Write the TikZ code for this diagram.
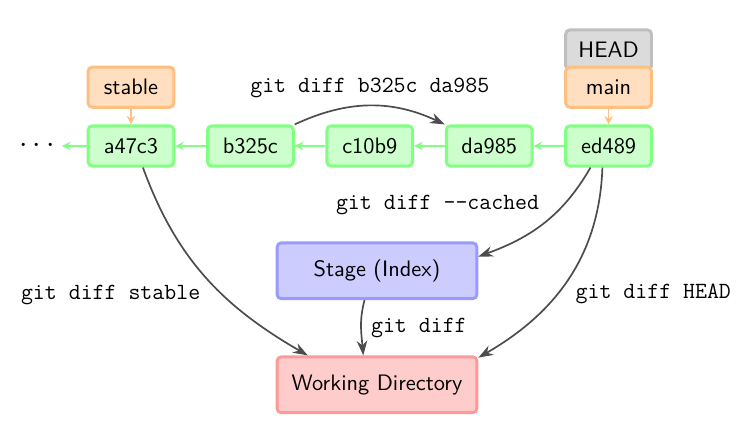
\documentclass[tikz,border=0pt]{standalone}
\usepackage{tikz}
\usetikzlibrary{arrows.meta}

\begin{document}
\begin{tikzpicture}[
    commit/.style={draw=green!50, fill=green!20, line width=1.4pt, rounded corners=2pt,
        minimum width=1.43cm, minimum height=0.67cm, font=\fontsize{10.6}{12}\selectfont\sffamily},
    branch/.style={commit, draw=orange!50, fill=orange!25},
    headbox/.style={commit, draw=black!25, fill=black!14},
    area/.style={commit, minimum width=3.33cm, minimum height=0.93cm},
    parent/.style={green!50, thick, -{Stealth[length=4pt,width=4pt]}},
    points/.style={orange!50, thick, -{Stealth[length=4pt,width=4pt]}},
    diff/.style={black!70, thick, -{Stealth[length=7pt,width=5pt]}},
    cmd/.style={font=\fontsize{11}{13}\selectfont\ttfamily, black}
]
\useasboundingbox (-2.183,2.433) rectangle (10.25,-4.933);

    % Commits, newest on the right
    \node[font=\fontsize{15}{18}\selectfont] (dots) at (-1.57,0) {$\cdots$};
    \node[commit] (a47c3) at (0,0) {a47c3};
    \node[commit] (b325c) at (1.99,0) {b325c};
    \node[commit] (c10b9) at (3.98,0) {c10b9};
    \node[commit] (da985) at (5.97,0) {da985};
    \node[commit] (ed489) at (7.96,0) {ed489};

    % Branches and HEAD
    \node[branch] (stable) at (0,0.98) {stable};
    \node[headbox] (head) at (7.96,1.6) {HEAD};
    \node[branch] (main) at (7.96,0.98) {main};

    % Stage and working directory
    \node[area, draw=blue!40, fill=blue!20] (stage) at (4.1,-2.08) {Stage (Index)};
    \node[area, draw=red!40, fill=red!20] (wd) at (4.1,-3.98) {Working Directory};

    % Parent links
    \draw[parent] (a47c3) -- (dots);
    \draw[parent] (b325c) -- (a47c3);
    \draw[parent] (c10b9) -- (b325c);
    \draw[parent] (da985) -- (c10b9);
    \draw[parent] (ed489) -- (da985);
    \draw[points] (stable) -- (a47c3);
    \draw[points] (main) -- (ed489);

    % The diffs
    \draw[diff] (b325c.north east) to[out=25,in=155]
        node[cmd, above=0pt] (d1) {git diff b325c da985} (da985.north west);
    \draw[diff] (a47c3.-61) to[out=-70,in=150]
        node[cmd, pos=0.6, left=7pt] (d2) {git diff stable} (wd.157);
    \draw[diff] (ed489.-130) to[out=-120,in=20]
        node[cmd, pos=0.3, left=8pt] (d3) {git diff -{}-cached} (stage.8);
    \draw[diff] (ed489.-106) to[out=-92,in=30]
        node[cmd, pos=0.58, right=5pt] (d4) {git diff HEAD} (wd.15);
    \draw[diff] (stage.-113) to[out=-105,in=95]
        node[cmd, right=1pt] (d5) {git diff} (wd.115);

\end{tikzpicture}
\end{document}
